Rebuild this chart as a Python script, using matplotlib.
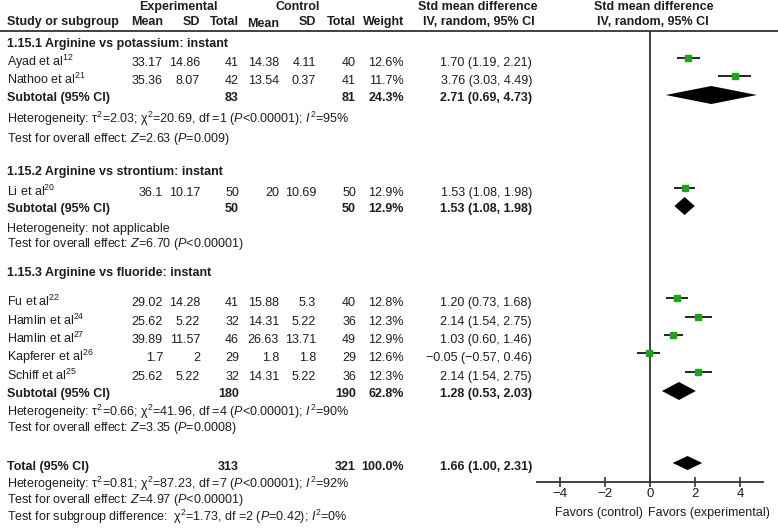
import matplotlib
matplotlib.use("Agg")
from matplotlib import pyplot as plt

plt.rcParams["font.family"] = ["Liberation Sans", "DejaVu Sans"]
plt.rcParams["mathtext.fontset"] = "custom"
plt.rcParams["mathtext.rm"] = "Liberation Sans"
plt.rcParams["mathtext.it"] = "Liberation Sans:italic"
plt.rcParams["mathtext.bf"] = "Liberation Sans:bold"

# study level data
studies = ["Ayad et al$^{12}$", "Nathoo et al$^{21}$", "Li et al$^{20}$", "Fu et al$^{22}$",
           "Hamlin et al$^{24}$", "Hamlin et al$^{27}$", "Kapferer et al$^{26}$", "Schiff et al$^{25}$"]
exp_mean = [33.17, 35.36, 36.1, 29.02, 25.62, 39.89, 1.7, 25.62]
exp_sd = [14.86, 8.07, 10.17, 14.28, 5.22, 11.57, 2, 5.22]
exp_n = [41, 42, 50, 41, 32, 46, 29, 32]
ctl_mean = [14.38, 13.54, 20, 15.88, 14.31, 26.63, 1.8, 14.31]
ctl_sd = [4.11, 0.37, 10.69, 5.3, 5.22, 13.71, 1.8, 5.22]
ctl_n = [40, 41, 50, 40, 36, 49, 29, 36]
weight = [12.6, 11.7, 12.9, 12.8, 12.3, 12.9, 12.6, 12.3]
smd = [1.70, 3.76, 1.53, 1.20, 2.14, 1.03, -0.05, 2.14]
smd_lo = [1.19, 3.03, 1.08, 0.73, 1.54, 0.60, -0.57, 1.54]
smd_hi = [2.21, 4.49, 1.98, 1.68, 2.75, 1.46, 0.46, 2.75]

# subgroup data
groups = ["1.15.1 Arginine vs potassium: instant",
          "1.15.2 Arginine vs strontium: instant",
          "1.15.3 Arginine vs fluoride: instant"]
group_studies = [[0, 1], [2], [3, 4, 5, 6, 7]]
sub_exp_n = [83, 50, 180]
sub_ctl_n = [81, 50, 190]
sub_weight = [24.3, 12.9, 62.8]
sub_smd = [2.71, 1.53, 1.28]
sub_lo = [0.69, 1.08, 0.53]
sub_hi = [4.73, 1.98, 2.03]
sub_het = ["Heterogeneity: τ$^2$=2.03; χ$^2$=20.69, df =1 ($P$<0.00001); $I^2$=95%",
           "Heterogeneity: not applicable",
           "Heterogeneity: τ$^2$=0.66; χ$^2$=41.96, df =4 ($P$<0.00001); $I^2$=90%"]
sub_test = ["Test for overall effect: $Z$=2.63 ($P$=0.009)",
            "Test for overall effect: $Z$=6.70 ($P$<0.00001)",
            "Test for overall effect: $Z$=3.35 ($P$=0.0008)"]

# overall
total_exp_n = 313
total_ctl_n = 321
total_weight = 100.0
total_smd = 1.66
total_lo = 1.00
total_hi = 2.31
total_notes = ["Heterogeneity: τ$^2$=0.81; χ$^2$=87.23, df =7 ($P$<0.00001); $I^2$=92%",
               "Test for overall effect: $Z$=4.97 ($P$<0.00001)",
               "Test for subgroup difference:  χ$^2$=1.73, df =2 ($P$=0.42); $I^2$=0%"]

xticks = [-4, -2, 0, 2, 4]

# layout (pixel rows, top down, text centres)
W, H = 778, 529
header_y = [43, 171, 272]
study_y = [62, 80, 192, 302, 321, 339, 357, 376]
sub_y = [97, 208, 393]
het_y = [119, 228, 412]
test_y = [138, 243, 427]
total_y = 466
notes_y = [484, 499, 517]

col_x = dict(name=7, em=163, esd=200, en=239, cm=279, csd=316, cn=356, w=404, ci=532)
FS = 9
TXT = "#1e1e1e"
LINE = "#333333"
GREEN = "#1aa51a"


def ci_text(m, lo, hi):
    return f"{m:.2f} ({lo:.2f}, {hi:.2f})".replace("-", "\u2212")


fig = plt.figure(figsize=(W / 100, H / 100), dpi=100)
ax = fig.add_axes([0, 0, 1, 1])
ax.set_xlim(0, W)
ax.set_ylim(H, 0)
ax.set_axis_off()


def put(x, y, s, ha="left", bold=False, fs=FS):
    # baseline placement so mathtext lines line up with plain ones
    ax.text(x, y + 4, s, ha=ha, va="baseline", fontsize=fs, color=TXT,
            fontweight="bold" if bold else "normal")


# column headers
put(178, 6, "Experimental", ha="center", bold=True)
put(298, 6, "Control", ha="center", bold=True)
put(col_x["name"], 21, "Study or subgroup", bold=True)
put(col_x["em"], 21, "Mean", ha="right", bold=True)
put(col_x["esd"], 21, "SD", ha="right", bold=True)
put(col_x["en"], 21, "Total", ha="right", bold=True)
put(col_x["cm"], 23, "Mean", ha="right", bold=True)
put(col_x["csd"], 21, "SD", ha="right", bold=True)
put(col_x["cn"], 21, "Total", ha="right", bold=True)
put(col_x["w"], 21, "Weight", ha="right", bold=True)
put(478, 6, "Std mean difference", ha="center", bold=True)
put(479, 21, "IV, random, 95% CI", ha="center", bold=True)
put(654, 6, "Std mean difference", ha="center", bold=True)
put(653, 21, "IV, random, 95% CI", ha="center", bold=True)
ax.hlines(31, 0, W, color=LINE, lw=1.3)

# forest axes
fx0, fx1, fy0, fy1 = 537, 763, 31, 482
fax = fig.add_axes([fx0 / W, (H - fy1) / H, (fx1 - fx0) / W, (fy1 - fy0) / H])
fax.set_facecolor("none")
fax.set_xlim(-5, 5)
fax.set_ylim(fy1, fy0)
for s in ["top", "right", "left"]:
    fax.spines[s].set_visible(False)
fax.spines["bottom"].set_color(LINE)
fax.spines["bottom"].set_linewidth(1.3)
fax.axvline(0, color=LINE, lw=1.3)
fax.set_xticks(xticks)
fax.tick_params(axis="x", direction="inout", length=7, width=1.2, color=LINE,
                labelsize=9.5, labelcolor=TXT, pad=1)
fax.set_yticks([])

for g, name in enumerate(groups):
    put(col_x["name"], header_y[g], name, bold=True)
    for i in group_studies[g]:
        y = study_y[i]
        put(col_x["name"], y, studies[i])
        put(col_x["em"], y, f"{exp_mean[i]:g}", ha="right")
        put(col_x["esd"], y, f"{exp_sd[i]:g}", ha="right")
        put(col_x["en"], y, f"{exp_n[i]}", ha="right")
        put(col_x["cm"], y, f"{ctl_mean[i]:g}", ha="right")
        put(col_x["csd"], y, f"{ctl_sd[i]:g}", ha="right")
        put(col_x["cn"], y, f"{ctl_n[i]}", ha="right")
        put(col_x["w"], y, f"{weight[i]:.1f}%", ha="right")
        put(col_x["ci"], y, ci_text(smd[i], smd_lo[i], smd_hi[i]), ha="right")
        fax.hlines(y - 4, smd_lo[i], smd_hi[i], color="black", lw=1.2, zorder=3)
        fax.plot(smd[i], y - 4, "s", color=GREEN, ms=3.8, mec=GREEN, zorder=4)

    y = sub_y[g]
    put(col_x["name"], y, "Subtotal (95% CI)", bold=True)
    put(col_x["en"], y, f"{sub_exp_n[g]}", ha="right", bold=True)
    put(col_x["cn"], y, f"{sub_ctl_n[g]}", ha="right", bold=True)
    put(col_x["w"], y, f"{sub_weight[g]:.1f}%", ha="right", bold=True)
    put(col_x["ci"], y, ci_text(sub_smd[g], sub_lo[g], sub_hi[g]), ha="right", bold=True)
    dy = y - 2
    fax.fill([sub_lo[g], sub_smd[g], sub_hi[g], sub_smd[g]], [dy, dy - 9, dy, dy + 9],
             color="black", lw=0, zorder=3)
    put(col_x["name"], het_y[g], sub_het[g])
    put(col_x["name"], test_y[g], sub_test[g])

# overall
put(col_x["name"], total_y, "Total (95% CI)", bold=True)
put(col_x["en"], total_y, f"{total_exp_n}", ha="right", bold=True)
put(col_x["cn"], total_y, f"{total_ctl_n}", ha="right", bold=True)
put(col_x["w"], total_y, f"{total_weight:.1f}%", ha="right", bold=True)
put(col_x["ci"], total_y, ci_text(total_smd, total_lo, total_hi), ha="right", bold=True)
dy = total_y - 3
fax.fill([total_lo, total_smd, total_hi, total_smd], [dy, dy - 7, dy, dy + 7],
         color="black", lw=0, zorder=3)
for s, y in zip(total_notes, notes_y):
    put(col_x["name"], y, s)

put(643, 512, "Favors (control)", ha="right")
put(648, 512, "Favors (experimental)")

fig.savefig("out.png", dpi=100)
